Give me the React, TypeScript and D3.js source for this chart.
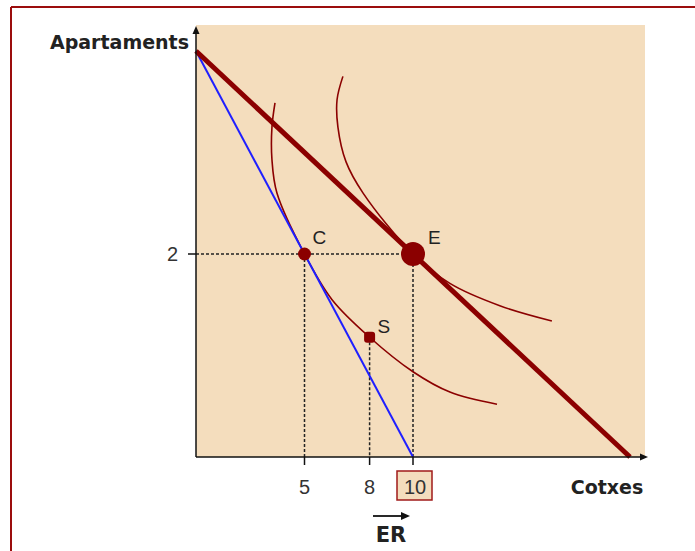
import React from "react";
import * as d3 from "d3";

// ---- data (in chart units: Cotxes on x, Apartaments on y) ----
const xTicks = [5, 8, 10];
const yTicks = [2];
const budgetNew = [ [0, 4], [20, 0] ]; // thick budget line through E
const budgetOld = [ [0, 4], [10, 0] ]; // blue budget line through C
const indiffLow = [
  [3.64, 3.49], [3.5, 3.25], [3.5, 2.93], [3.73, 2.6], [5, 2], [6.27, 1.55],
  [8, 1.18], [10, 0.84], [11.7, 0.64], [13.87, 0.52],
];
const indiffHigh = [
  [6.77, 3.75], [6.5, 3.52], [6.54, 3.25], [6.91, 2.91], [7.7, 2.6], [10, 2],
  [11.7, 1.71], [14.0, 1.49], [16.4, 1.34],
];
const pointC = { label: "C", x: 5, y: 2 };
const pointE = { label: "E", x: 10, y: 2 };
const pointS = { label: "S", x: 8, y: 1.18 };
const xTitle = "Cotxes";
const yTitle = "Apartaments";
const effectLabel = "ER";
const boxedTick = 10;

const W = 695;
const H = 551;

export default function App() {
  const x = d3.scaleLinear().domain([0, 20]).range([196, 630]);
  const y = d3.scaleLinear().domain([0, 4]).range([457, 51]);
  const x0 = x(0);
  const y0 = y(0);
  const plotRight = 645;
  const plotTop = 25;

  const line = d3
    .line<number[]>()
    .x((d) => x(d[0]))
    .y((d) => y(d[1]));
  const curve = d3
    .line<number[]>()
    .x((d) => x(d[0]))
    .y((d) => y(d[1]))
    .curve(d3.curveCatmullRom.alpha(0.5));

  const red = "#8b0000";
  const dash = "3,2";
  const numFont = "'Liberation Sans', Arial, sans-serif";
  const boldFont = "'DejaVu Sans', sans-serif";

  return (
    <svg
      width={W}
      height={H}
      style={{ position: "absolute", left: 0, top: 0, background: "#fff" }}
    >
      {/* outer border (top and left) */}
      <line x1={11} y1={7} x2={W} y2={7} stroke="#9b0d0d" strokeWidth={2} />
      <line x1={11} y1={7} x2={11} y2={H} stroke="#9b0d0d" strokeWidth={2} />

      {/* plot background */}
      <rect x={x0} y={plotTop} width={plotRight - x0} height={y0 - plotTop} fill="#f4ddbd" />

      {/* dashed guides */}
      <line x1={x0} y1={y(pointE.y)} x2={x(pointE.x)} y2={y(pointE.y)} stroke="#222" strokeWidth={1.5} strokeDasharray={dash} />
      {[pointC, pointS, pointE].map((p) => (
        <line key={p.label} x1={x(p.x)} y1={y(p.y)} x2={x(p.x)} y2={y0} stroke="#222" strokeWidth={1.5} strokeDasharray={dash} />
      ))}

      {/* indifference curves */}
      <path d={curve(indiffLow) || ""} fill="none" stroke={red} strokeWidth={1.6} />
      <path d={curve(indiffHigh) || ""} fill="none" stroke={red} strokeWidth={1.6} />

      {/* budget lines */}
      <path d={line(budgetOld) || ""} fill="none" stroke="#1f1fff" strokeWidth={2} />
      <path d={line(budgetNew) || ""} fill="none" stroke={red} strokeWidth={5} />

      {/* points */}
      <circle cx={x(pointC.x)} cy={y(pointC.y)} r={6.5} fill={red} />
      <rect x={x(pointS.x) - 5.5} y={y(pointS.y) - 5.5} width={11} height={11} rx={3} fill={red} />
      <circle cx={x(pointE.x)} cy={y(pointE.y)} r={12} fill={red} />

      <text x={x(pointC.x) + 8} y={y(pointC.y) - 10} fontFamily={numFont} fontSize={19} fill="#222">{pointC.label}</text>
      <text x={x(pointE.x) + 15} y={y(pointE.y) - 10} fontFamily={numFont} fontSize={19} fill="#222">{pointE.label}</text>
      <text x={x(pointS.x) + 8} y={y(pointS.y) - 4} fontFamily={numFont} fontSize={19} fill="#222">{pointS.label}</text>

      {/* axes */}
      <line x1={x0} y1={y0} x2={642} y2={y0} stroke="#111" strokeWidth={1.5} />
      <path d={`M648,${y0} L640,${y0 - 3.5} L640,${y0 + 3.5} Z`} fill="#111" />
      <line x1={x0} y1={y0} x2={x0} y2={32} stroke="#111" strokeWidth={1.5} />
      <path d={`M${x0},26 L${x0 - 3.5},34 L${x0 + 3.5},34 Z`} fill="#111" />

      {/* x ticks */}
      {xTicks.map((t) => (
        <g key={t}>
          <line x1={x(t)} y1={y0} x2={x(t)} y2={y0 + 8} stroke="#111" strokeWidth={1.5} />
          {t === boxedTick && (
            <rect x={x(t) - 16} y={471} width={35} height={29} fill="#f4ddbd" stroke="#a01a1a" strokeWidth={1.5} />
          )}
          <text x={x(t) + (t === boxedTick ? 2 : 0)} y={494} textAnchor="middle" fontFamily={numFont} fontSize={20} fill="#333">{t}</text>
        </g>
      ))}

      {/* y ticks */}
      {yTicks.map((t) => (
        <g key={t}>
          <line x1={x0 - 8} y1={y(t)} x2={x0} y2={y(t)} stroke="#111" strokeWidth={1.5} />
          <text x={178} y={y(t) + 7} textAnchor="end" fontFamily={numFont} fontSize={20} fill="#333">{t}</text>
        </g>
      ))}

      {/* titles */}
      <text x={189} y={49} textAnchor="end" fontFamily={boldFont} fontWeight="bold" fontSize={19} fill="#222">{yTitle}</text>
      <text x={607} y={494} textAnchor="middle" fontFamily={boldFont} fontWeight="bold" fontSize={19} fill="#222">{xTitle}</text>

      {/* ER with arrow */}
      <line x1={373} y1={516} x2={403} y2={516} stroke="#111" strokeWidth={1.8} />
      <path d="M410,516 L401,512 L401,520 Z" fill="#111" />
      <text x={391} y={542} textAnchor="middle" fontFamily={boldFont} fontWeight="bold" fontSize={21} fill="#222">{effectLabel}</text>
    </svg>
  );
}
